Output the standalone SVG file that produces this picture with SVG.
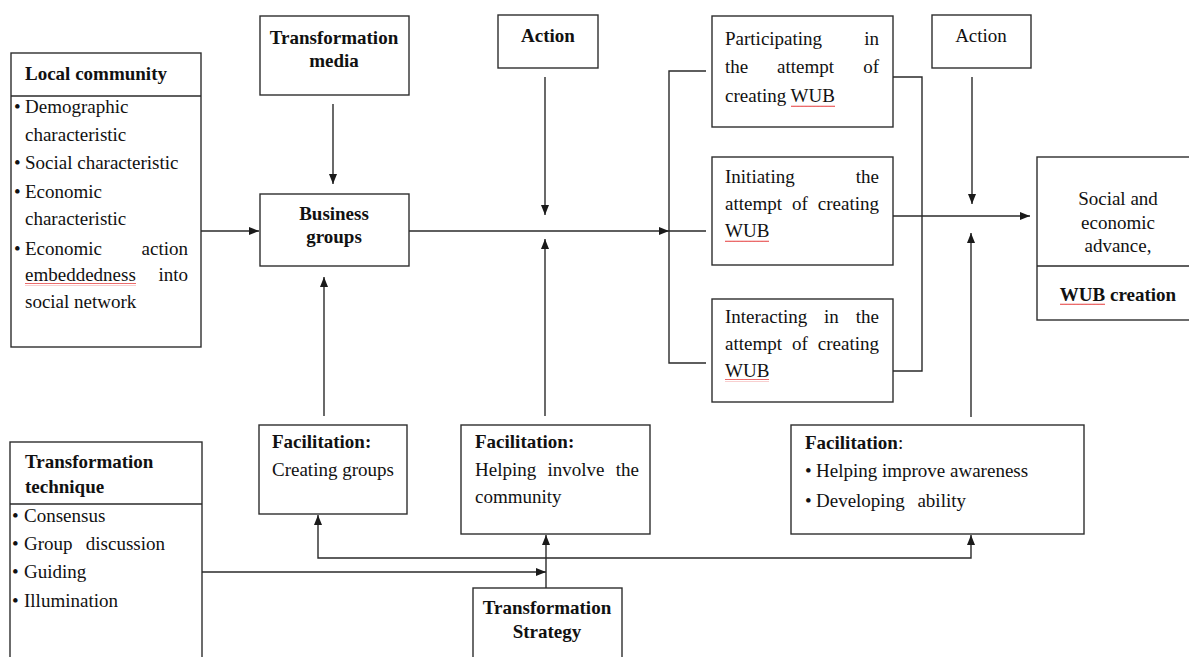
<svg xmlns="http://www.w3.org/2000/svg" width="1189" height="657" viewBox="0 0 1189 657">
<style>
.box{fill:#fff;stroke:#2e2e2e;stroke-width:1.4}
.ln{fill:none;stroke:#2a2a2a;stroke-width:1.4}
text{font-family:"Liberation Serif","Times New Roman",serif;font-size:19px;fill:#111}
.b{font-weight:bold}
.c{text-anchor:middle}
.e{text-anchor:end}
.sq{fill:url(#wave)}
</style>
<defs>
<marker id="ah" viewBox="0 0 10 8" refX="10" refY="4" markerWidth="10" markerHeight="8" markerUnits="userSpaceOnUse" orient="auto"><path d="M0,0 L10,4 L0,8 z" fill="#1a1a1a"/></marker>
<pattern id="wave" width="4" height="3" patternUnits="userSpaceOnUse"><path d="M0,2 L1,0.7 L2,2 L3,0.7 L4,2" fill="none" stroke="#e23030" stroke-width="0.8"/></pattern>
</defs>
<rect width="1189" height="657" fill="#fff"/>

<g id="local-community">
<rect class="box" x="11" y="53" width="190" height="294"/>
<line class="ln" x1="11" y1="96" x2="201" y2="96"/>
<text class="b" x="25" y="80">Local community</text>
<text x="14" y="113">•</text><text x="25" y="113">Demographic</text>
<text x="25" y="141">characteristic</text>
<text x="14" y="169">•</text><text x="25" y="169">Social characteristic</text>
<text x="14" y="198">•</text><text x="25" y="198">Economic</text>
<text x="25" y="225">characteristic</text>
<text x="14" y="255">•</text><text x="25" y="255">Economic</text><text class="e" x="188" y="255">action</text>
<text x="25" y="281">embeddedness</text><text class="e" x="188" y="281">into</text>
<text x="25" y="308">social network</text>
</g>

<g id="transformation-media">
<rect class="box" x="260" y="16" width="149" height="79"/>
<text class="b c" x="334" y="44">Transformation</text>
<text class="b c" x="334" y="67">media</text>
</g>

<g id="business-groups">
<rect class="box" x="260" y="194" width="149" height="72"/>
<text class="b c" x="334" y="220">Business</text>
<text class="b c" x="334" y="243">groups</text>
</g>

<g id="action-1">
<rect class="box" x="498" y="15" width="100" height="53"/>
<text class="b c" x="548" y="42">Action</text>
</g>

<g id="participating">
<rect class="box" x="712" y="16" width="181" height="111"/>
<text x="725" y="45">Participating</text><text class="e" x="879" y="45">in</text>
<text x="725" y="73">the</text><text x="777" y="73">attempt</text><text class="e" x="879" y="73">of</text>
<text x="725" y="102">creating WUB</text>
</g>

<g id="initiating">
<rect class="box" x="712" y="157" width="181" height="108"/>
<text x="725" y="183">Initiating</text><text class="e" x="879" y="183">the</text>
<text x="725" y="210">attempt</text><text x="792" y="210">of</text><text class="e" x="879" y="210">creating</text>
<text x="725" y="237">WUB</text>
</g>

<g id="interacting">
<rect class="box" x="712" y="299" width="181" height="103"/>
<text x="725" y="323">Interacting</text><text x="824" y="323">in</text><text class="e" x="879" y="323">the</text>
<text x="725" y="350">attempt</text><text x="792" y="350">of</text><text class="e" x="879" y="350">creating</text>
<text x="725" y="377">WUB</text>
</g>

<g id="action-2">
<rect class="box" x="932" y="15" width="99" height="53"/>
<text class="c" x="981" y="42">Action</text>
</g>

<g id="social-economic-advance">
<rect class="box" x="1037" y="157" width="160" height="163"/>
<line class="ln" x1="1037" y1="266" x2="1189" y2="266"/>
<text class="c" x="1118" y="205">Social and</text>
<text class="c" x="1118" y="229">economic</text>
<text class="c" x="1118" y="252">advance,</text>
<text class="b c" x="1118" y="301">WUB creation</text>
</g>

<g id="transformation-technique">
<rect class="box" x="10" y="442" width="192" height="222"/>
<line class="ln" x1="10" y1="504" x2="202" y2="504"/>
<text class="b" x="25" y="468">Transformation</text>
<text class="b" x="25" y="493">technique</text>
<text x="12" y="522">•</text><text x="24" y="522">Consensus</text>
<text x="12" y="550">•</text><text x="24" y="550">Group</text><text class="e" x="165" y="550">discussion</text>
<text x="12" y="578">•</text><text x="24" y="578">Guiding</text>
<text x="12" y="607">•</text><text x="24" y="607">Illumination</text>
</g>

<g id="facilitation-groups">
<rect class="box" x="259" y="425" width="148" height="89"/>
<text class="b" x="272" y="448">Facilitation:</text>
<text x="272" y="476">Creating groups</text>
</g>

<g id="facilitation-community">
<rect class="box" x="461" y="425" width="189" height="109"/>
<text class="b" x="475" y="448">Facilitation:</text>
<text x="475" y="476">Helping</text><text x="547.5" y="476">involve</text><text class="e" x="639" y="476">the</text>
<text x="475" y="503">community</text>
</g>

<g id="facilitation-awareness">
<rect class="box" x="791" y="425" width="293" height="109"/>
<text x="805" y="449"><tspan class="b">Facilitation</tspan>:</text>
<text x="805" y="477">•</text><text x="816" y="477">Helping improve awareness</text>
<text x="805" y="507">•</text><text x="816" y="507">Developing</text><text class="e" x="966" y="507">ability</text>
</g>

<g id="transformation-strategy">
<rect class="box" x="473" y="588" width="149" height="76"/>
<text class="b c" x="547" y="614">Transformation</text>
<text class="b c" x="547" y="638">Strategy</text>
</g>

<g id="connectors">
<path class="ln" d="M201,231 H259" marker-end="url(#ah)"/>
<path class="ln" d="M333,104 V184" marker-end="url(#ah)"/>
<path class="ln" d="M409,231 H669" marker-end="url(#ah)"/>
<path class="ln" d="M706,71 H669 V363 H706 M669,231 H706"/>
<path class="ln" d="M545,77 V215" marker-end="url(#ah)"/>
<path class="ln" d="M545,416 V239" marker-end="url(#ah)"/>
<path class="ln" d="M324,416 V277" marker-end="url(#ah)"/>
<path class="ln" d="M893,77 H922 V371 H893"/>
<path class="ln" d="M893,216 H1030" marker-end="url(#ah)"/>
<path class="ln" d="M972,77 V204" marker-end="url(#ah)"/>
<path class="ln" d="M971,417 V233" marker-end="url(#ah)"/>
<path class="ln" d="M202,572 H546" marker-end="url(#ah)"/>
<path class="ln" d="M546,588 V535" marker-end="url(#ah)"/>
<path class="ln" d="M546,558 H318 V515" marker-end="url(#ah)"/>
<path class="ln" d="M546,558 H971 V535" marker-end="url(#ah)"/>
</g>

<g id="spellcheck-marks">
<rect class="sq" x="25" y="283" width="111" height="3"/>
<rect class="sq" x="791" y="104" width="44" height="3"/>
<rect class="sq" x="725" y="239" width="44" height="3"/>
<rect class="sq" x="725" y="379" width="44" height="3"/>
<rect class="sq" x="1060" y="303" width="45" height="3"/>
</g>
</svg>
